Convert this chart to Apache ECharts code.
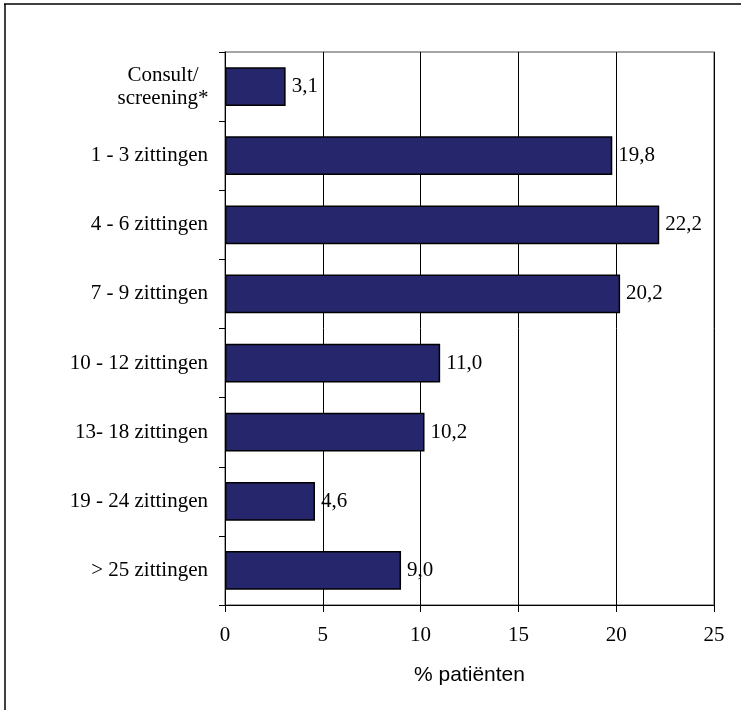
<!DOCTYPE html>
<html>
<head>
<meta charset="utf-8">
<script src="https://cdn.jsdelivr.net/npm/echarts@6/dist/echarts.min.js"></script>
<style>
  html, body { margin: 0; padding: 0; background: #fff; }
  #main { width: 741px; height: 710px; }
</style>
</head>
<body>
<div id="main"></div>
<script type="text/javascript">
    var categories = ['Consult/\nscreening*', '1 - 3 zittingen', '4 - 6 zittingen', '7 - 9 zittingen',
        '10 - 12 zittingen', '13- 18 zittingen', '19 - 24 zittingen', '> 25 zittingen'];
    var values = [3.1, 19.8, 22.2, 20.2, 11.0, 10.2, 4.6, 9.0];
    var xTicks = [0, 5, 10, 15, 20, 25];

    var serif = '"Liberation Serif", "DejaVu Serif", serif';
    var myChart = echarts.init(document.getElementById('main'));

    var option = {
        backgroundColor: '#fff',
        animation: false,
        grid: {
            left: 225, right: 27, top: 52, bottom: 105,
            show: true, borderColor: '#888', borderWidth: 1.5
        },
        xAxis: {
            type: 'value',
            min: xTicks[0],
            max: xTicks[xTicks.length - 1],
            interval: 5,
            name: '% patiënten',
            nameLocation: 'middle',
            nameGap: 60,
            nameTextStyle: { fontFamily: '"Liberation Sans", Arial, sans-serif', fontSize: 21, color: '#000' },
            axisLine: { show: true, lineStyle: { color: '#000', width: 1 } },
            axisTick: { show: true, length: 7, lineStyle: { color: '#000' } },
            axisLabel: { margin: 20, fontFamily: serif, fontSize: 21, color: '#000' },
            splitLine: { show: true, lineStyle: { color: '#000', width: 1 } }
        },
        yAxis: {
            type: 'category',
            data: categories,
            inverse: true,
            axisLine: { show: true, lineStyle: { color: '#000', width: 1 } },
            axisTick: { show: true, length: 6, lineStyle: { color: '#000' } },
            axisLabel: {
                margin: 17, fontFamily: serif, fontSize: 21, color: '#000', lineHeight: 23,
                formatter: function (v) {
                    // two-line label is centred in the original
                    if (v.indexOf('\n') < 0) return v;
                    return v.split('\n').map(function (s) { return '{c|' + s + '}'; }).join('\n');
                },
                rich: { c: { width: 90, align: 'center', fontFamily: serif, fontSize: 21, lineHeight: 23, color: '#000' } }
            },
            splitLine: { show: false }
        },
        series: [{
            type: 'bar',
            data: values,
            barCategoryGap: '44%',
            itemStyle: { color: '#26266c', borderColor: '#000', borderWidth: 1.5 },
            label: {
                show: true,
                position: 'right',
                distance: 6,
                fontFamily: serif,
                fontSize: 21,
                color: '#000',
                formatter: function (p) { return p.value.toFixed(1).replace('.', ','); }
            }
        }],
        graphic: [
            { type: 'line', shape: { x1: 4, y1: 4, x2: 741, y2: 4 }, style: { stroke: '#000', lineWidth: 1.5 } },
            { type: 'line', shape: { x1: 5, y1: 4, x2: 5, y2: 710 }, style: { stroke: '#000', lineWidth: 1.5 } }
        ]
    };
    myChart.setOption(option);
</script>
</body>
</html>
